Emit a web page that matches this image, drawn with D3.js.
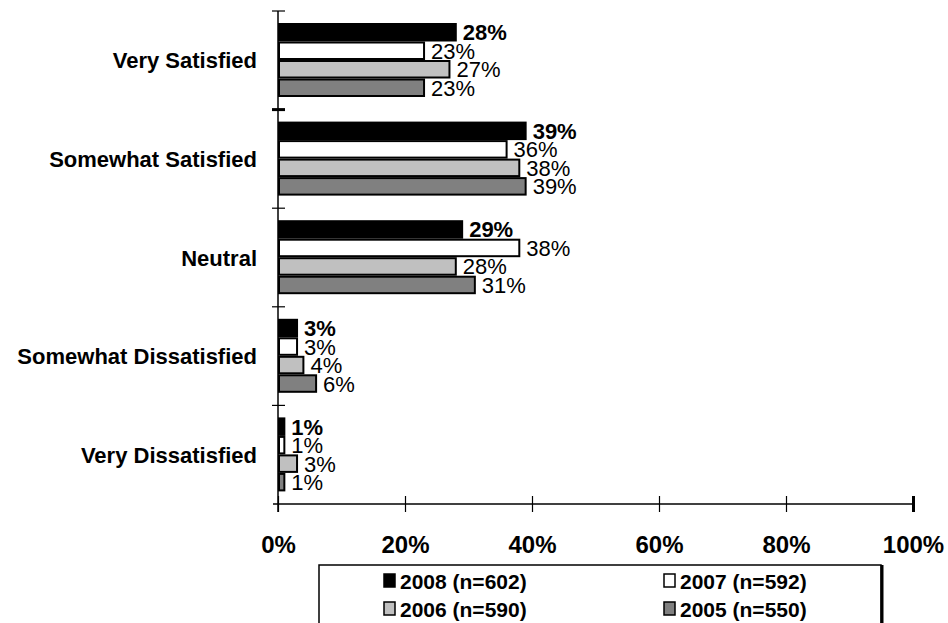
<!DOCTYPE html>
<html>
<head>
<meta charset="utf-8">
<script src="https://cdn.jsdelivr.net/npm/d3@7"></script>
<style>
  html, body { margin: 0; padding: 0; background: #fff; }
  svg { display: block; font-family: "Liberation Sans", Arial, sans-serif; }
</style>
</head>
<body>
<svg id="chart" width="948" height="623"></svg>
<script>
// Satisfaction ratings by survey year
const categories = ["Very Satisfied", "Somewhat Satisfied", "Neutral", "Somewhat Dissatisfied", "Very Dissatisfied"];
const seriesNames = ["2008 (n=602)", "2007 (n=592)", "2006 (n=590)", "2005 (n=550)"];
const values2008 = [28, 39, 29, 3, 1];
const values2007 = [23, 36, 38, 3, 1];
const values2006 = [27, 38, 28, 4, 3];
const values2005 = [23, 39, 31, 6, 1];
const tickValues = [0, 20, 40, 60, 80, 100];

const seriesValues = [values2008, values2007, values2006, values2005];
const fills = ["#000000", "#ffffff", "#c0c0c0", "#808080"];

const svg = d3.select("#chart");

const x = d3.scaleLinear().domain([0, 100]).range([278, 913]);
const y = d3.scaleBand().domain(categories).range([11, 504]);
const inner = d3.scaleBand().domain(d3.range(seriesNames.length)).range([12, 86]);

// bars
const groups = svg.append("g").selectAll("g")
  .data(categories)
  .join("g")
  .attr("transform", d => `translate(0,${y(d)})`);

groups.each(function (cat, ci) {
  const g = d3.select(this);
  seriesValues.forEach((vals, si) => {
    const v = vals[ci];
    const top = inner(si);
    const h = inner.bandwidth();
    g.append("rect")
      .attr("x", x(0) + 1)
      .attr("y", top + 1)
      .attr("width", Math.max(0, x(v) - x(0) - 1))
      .attr("height", h - 2)
      .attr("fill", fills[si])
      .attr("stroke", "#000")
      .attr("stroke-width", 2);
    g.append("text")
      .attr("x", x(v) + 7)
      .attr("y", top + h / 2 + 8)
      .attr("font-size", 22)
      .attr("font-weight", si === 0 ? "bold" : "normal")
      .attr("fill", "#000")
      .text(v + "%");
  });
});

// category axis
const yAxis = svg.append("g")
  .attr("transform", `translate(${x(0)},0)`)
  .call(d3.axisLeft(y).tickSize(0).tickFormat(""));
yAxis.select(".domain").remove();
yAxis.append("line")
  .attr("x1", 0).attr("x2", 0)
  .attr("y1", 11).attr("y2", 512)
  .attr("stroke", "#000").attr("stroke-width", 1.5);
const boundaries = categories.map(c => y(c));
yAxis.selectAll(".bound")
  .data(boundaries)
  .join("line")
  .attr("class", "bound")
  .attr("x1", -6).attr("x2", 7)
  .attr("y1", d => d).attr("y2", d => d)
  .attr("stroke", "#000")
  .attr("stroke-width", (d, i) => i === 1 ? 3 : 1.2);

svg.append("g").selectAll("text")
  .data(categories)
  .join("text")
  .attr("x", 257)
  .attr("y", d => y(d) + y.bandwidth() / 2 + 8)
  .attr("text-anchor", "end")
  .attr("font-size", 22)
  .attr("font-weight", "bold")
  .text(d => d);

// value axis
const xAxis = svg.append("g")
  .attr("transform", "translate(0,504)")
  .call(d3.axisBottom(x).tickValues(tickValues).tickSize(0).tickFormat(d => d + "%"));
xAxis.select(".domain").remove();
xAxis.append("line")
  .attr("x1", 273).attr("x2", x(100))
  .attr("y1", 0).attr("y2", 0)
  .attr("stroke", "#000").attr("stroke-width", 1.5);
xAxis.selectAll(".tick line")
  .attr("y1", -8).attr("y2", 8)
  .attr("stroke", "#000")
  .attr("stroke-width", d => d === 100 ? 3 : 1.2);
xAxis.selectAll(".tick text")
  .attr("y", 49)
  .attr("dy", 0)
  .attr("font-size", 24)
  .attr("font-weight", "bold")
  .attr("fill", "#000")
  .attr("font-family", "'Liberation Sans', Arial, sans-serif");

// legend
const legend = svg.append("g");
legend.append("rect")
  .attr("x", 319).attr("y", 565)
  .attr("width", 562).attr("height", 80)
  .attr("fill", "#fff")
  .attr("stroke", "#000").attr("stroke-width", 1.5);
legend.append("line")
  .attr("x1", 882).attr("x2", 882)
  .attr("y1", 565).attr("y2", 645)
  .attr("stroke", "#000").attr("stroke-width", 3);

const colX = [383, 663];
const rowY = [589, 617];
seriesNames.forEach((name, i) => {
  const cx = colX[i % 2];
  const ry = rowY[Math.floor(i / 2)];
  legend.append("rect")
    .attr("x", cx + 1).attr("y", ry - 15)
    .attr("width", 11).attr("height", 13)
    .attr("fill", fills[i])
    .attr("stroke", "#000").attr("stroke-width", 1.5);
  legend.append("text")
    .attr("x", cx + 17).attr("y", ry)
    .attr("font-size", 21)
    .attr("font-weight", "bold")
    .text(name);
});
</script>
</body>
</html>
